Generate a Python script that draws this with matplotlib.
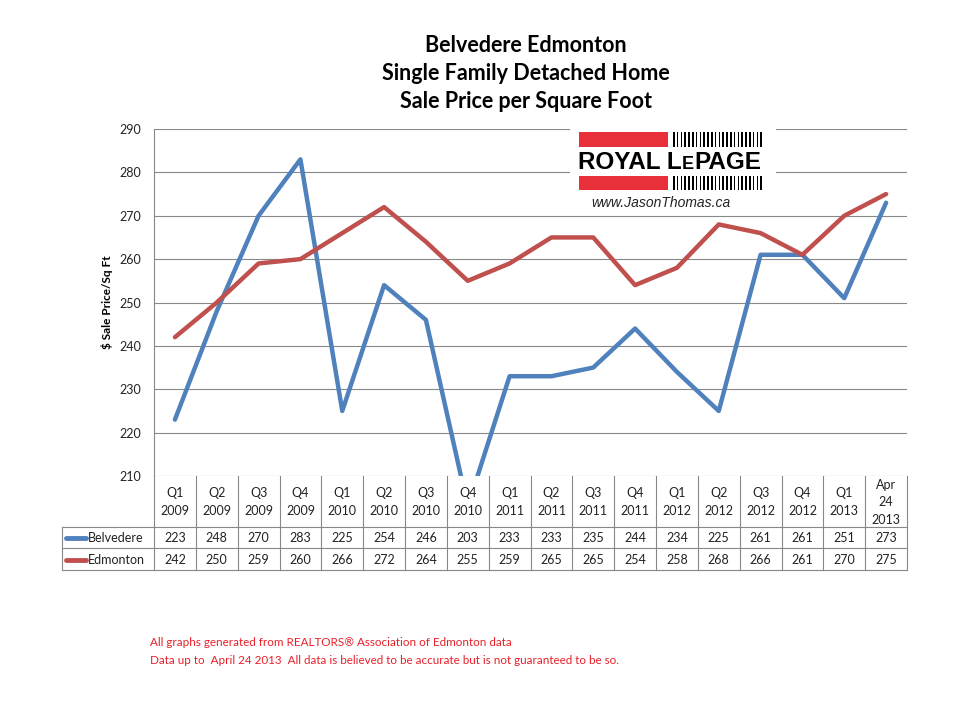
import matplotlib
matplotlib.use("Agg")
from matplotlib import pyplot as plt
from matplotlib.patches import Rectangle
import numpy as np

plt.rcParams['font.family'] = ['Lato', 'DejaVu Sans']

quarters = ["Q1\n2009", "Q2\n2009", "Q3\n2009", "Q4\n2009",
            "Q1\n2010", "Q2\n2010", "Q3\n2010", "Q4\n2010",
            "Q1\n2011", "Q2\n2011", "Q3\n2011", "Q4\n2011",
            "Q1\n2012", "Q2\n2012", "Q3\n2012", "Q4\n2012",
            "Q1\n2013", "Apr\n24\n2013"]
belvedere = [223, 248, 270, 283, 225, 254, 246, 203, 233, 233, 235, 244,
             234, 225, 261, 261, 251, 273]
edmonton = [242, 250, 259, 260, 266, 272, 264, 255, 259, 265, 265, 254,
            258, 268, 266, 261, 270, 275]
series = [("Belvedere", belvedere, "#4F81BD"), ("Edmonton", edmonton, "#C0504D")]

W, H = 960, 720
fig = plt.figure(figsize=(9.6, 7.2), dpi=100)

def fx(x):
    return x / W

def fy(y):
    return 1 - y / H

# plot area in pixels
L, R, T, B = 154, 907, 129, 476
ax = fig.add_axes([fx(L), fy(B), fx(R - L), (B - T) / H])
n = len(quarters)
x = np.arange(n) + 0.5
for name, vals, col in series:
    ax.plot(x, vals, color=col, lw=3.2, solid_capstyle='round', solid_joinstyle='round')
ax.set_xlim(0, n)
ax.set_ylim(210, 290)
ax.set_yticks(range(210, 291, 10))
ax.grid(axis='y', color='#888888', lw=0.8)
ax.set_axisbelow(True)
ax.set_xticks([])
for s in ['top', 'right', 'bottom']:
    ax.spines[s].set_visible(False)
ax.spines['left'].set_color('#888888')
ax.tick_params(axis='y', length=0, labelsize=9, pad=9, labelcolor='#222222')
ax.set_ylabel("$ Sale Price/Sq Ft", fontsize=8.5, fontweight='bold', labelpad=5)

# data table
tL, tB = 62, 570
rows_y = [476, 527, 548, 570]
tax = fig.add_axes([fx(tL), fy(tB), fx(R - tL), (tB - B) / H])
cw = (R - L) / n
x0 = -(L - tL) / cw
tax.set_xlim(x0, n)
tax.set_ylim(tB, B)
tax.axis('off')
lc = '#888888'
for i in range(n + 1):
    tax.plot([i, i], [B, tB], color=lc, lw=0.8, clip_on=False)
tax.plot([x0, x0], [rows_y[1], tB], color=lc, lw=0.8, clip_on=False)
for yy in rows_y[1:]:
    tax.plot([x0, n], [yy, yy], color=lc, lw=0.8, clip_on=False)
for i, q in enumerate(quarters):
    tax.text(i + 0.5, (rows_y[0] + rows_y[1]) / 2 + 0.5, q, ha='center', va='center',
             fontsize=9, linespacing=1.55, color='#222222')
for r, (name, vals, col) in enumerate(series):
    yc = (rows_y[r + 1] + rows_y[r + 2]) / 2 + 0.5
    tax.plot([x0 + 4 / cw, x0 + 24 / cw], [yc, yc], color=col, lw=3.5, solid_capstyle='round')
    tax.text(x0 + 26 / cw, yc, name, ha='left', va='center', fontsize=9, color='#222222')
    for i, v in enumerate(vals):
        tax.text(i + 0.5, yc, str(v), ha='center', va='center', fontsize=9, color='#222222')

# titles
for txt, yy in [("Belvedere Edmonton", 45), ("Single Family Detached Home", 74),
                ("Sale Price per Square Foot", 102)]:
    fig.text(fx(526), fy(yy), txt, ha='center', va='center', fontsize=15.5, fontweight='bold')

# logo
fig.patches.append(Rectangle((fx(570), fy(212)), fx(206), 86 / H, transform=fig.transFigure,
                             facecolor='white', edgecolor='none', zorder=5))
for y0, y1 in [(132, 147), (176, 190)]:
    fig.patches.append(Rectangle((fx(579), fy(y1)), fx(89), (y1 - y0) / H,
                                 transform=fig.transFigure, facecolor='#E8303A',
                                 edgecolor='none', zorder=6))
    for k in range(24):
        xs = 673 + k * 3.8
        fig.patches.append(Rectangle((fx(xs), fy(y1)), fx(1.6), (y1 - y0) / H,
                                     transform=fig.transFigure, facecolor='black',
                                     edgecolor='none', zorder=6))
renderer = fig.canvas.get_renderer()
cur = 578
for piece, size in [("ROYAL L", 17.5), ("E", 13), ("PAGE", 17.5)]:
    t = fig.text(fx(cur), fy(169), piece, ha='left', va='baseline', fontsize=size,
                 fontweight='bold', family='Liberation Sans', zorder=7)
    cur = t.get_window_extent(renderer).x1 + 0.5
fig.text(fx(591), fy(203), "www.JasonThomas.ca", ha='left', va='center', fontsize=10,
         style='italic', family='Liberation Sans', color='#222222', zorder=7)

# footer
fig.text(fx(150), fy(643), "All graphs generated from REALTORS\u00ae Association of Edmonton data",
         ha='left', va='center', fontsize=8.4, color='#E8202A')
fig.text(fx(150), fy(660), "Data up to  April 24 2013  All data is believed to be accurate but is not guaranteed to be so.",
         ha='left', va='center', fontsize=8.4, color='#E8202A')

fig.savefig("out.png", dpi=100)
